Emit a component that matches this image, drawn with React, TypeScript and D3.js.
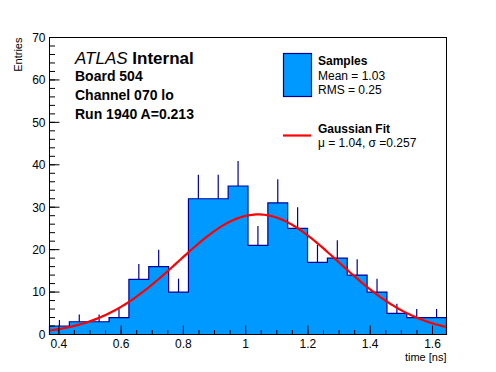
import React from "react";
import * as d3 from "d3";

// ---- data ----
const xMin = 0.37;
const xMax = 1.645;
const binCounts = [2, 3, 3, 4, 13, 16, 10, 32, 32, 35, 21, 31, 25, 17, 18, 14, 10, 5, 4, 4];
const xTickValues = [0.4, 0.6, 0.8, 1.0, 1.2, 1.4, 1.6];
const xTickLabels = ["0.4", "0.6", "0.8", "1", "1.2", "1.4", "1.6"];
const yTickValues = [0, 10, 20, 30, 40, 50, 60, 70];
const fitMean = 1.04;
const fitSigma = 0.257;
const fitConst = 28.3;
const infoLines = ["Board 504", "Channel 070 lo", "Run 1940 A=0.213"];
const legendSamples = ["Samples", "Mean = 1.03", "RMS = 0.25"];
const legendFit = ["Gaussian Fit", "\u03bc = 1.04, \u03c3 =0.257"];

const W = 496;
const H = 372;
const L = 49.5, R = 446.5, T = 37.5, B = 334.5;
const FONT = "'Liberation Sans', Arial, Helvetica, sans-serif";
const FILL = "#0099ff";
const EDGE = "#000099";

export default function App() {
  const x = d3.scaleLinear().domain([xMin, xMax]).range([L, R]);
  const y = d3.scaleLinear().domain([0, 70]).range([B, T]);
  const nb = binCounts.length;
  const bw = (xMax - xMin) / nb;
  const edges = d3.range(nb + 1).map((i) => xMin + i * bw);

  // step outline path
  let d = `M${x(edges[0])},${y(0)}`;
  binCounts.forEach((c, i) => {
    d += `L${x(edges[i])},${y(c)}L${x(edges[i + 1])},${y(c)}`;
  });
  d += `L${x(edges[nb])},${y(0)}Z`;

  const gauss = (v: number) => fitConst * Math.exp(-((v - fitMean) ** 2) / (2 * fitSigma * fitSigma));
  const curvePts = d3.range(0, 201).map((i) => {
    const v = xMin + (i / 200) * (xMax - xMin);
    return [x(v), y(gauss(v))] as [number, number];
  });
  const curve = d3.line()(curvePts) || "";

  const xMinor = d3.range(0, 30).map((i) => 0.35 + i * 0.05).filter((v) => v >= xMin && v <= xMax);
  const yMinor = d3.range(0, 36).map((i) => i * 2);

  return (
    <svg width={W} height={H} style={{ position: "absolute", left: 0, top: 0, background: "#fff" }} fontFamily={FONT}>
      <rect x={0} y={0} width={W} height={H} fill="#fff" />
      <path d={d} fill={FILL} stroke={EDGE} strokeWidth={1.2} />
      {binCounts.map((c, i) => {
        const cx = x(edges[i] + bw / 2);
        return (
          <line key={i} x1={cx} x2={cx} y1={y(c)} y2={y(c + Math.sqrt(c))} stroke={EDGE} strokeWidth={1.2} />
        );
      })}
      <defs>
        <clipPath id="frame">
          <rect x={L} y={T} width={R - L} height={B - T} />
        </clipPath>
      </defs>
      <path d={curve} fill="none" stroke="#ff0000" strokeWidth={2.2} clipPath="url(#frame)" />
      {/* frame */}
      <rect x={L} y={T} width={R - L} height={B - T} fill="none" stroke="#000" strokeWidth={1} />
      {/* x ticks */}
      {xMinor.map((v, i) => (
        <line key={"xm" + i} x1={x(v)} x2={x(v)} y1={B} y2={B - 4.5} stroke="#000" strokeWidth={1} />
      ))}
      {xTickValues.map((v, i) => (
        <g key={"xt" + i}>
          <line x1={x(v)} x2={x(v)} y1={B} y2={B - 9} stroke="#000" strokeWidth={1} />
          <text x={x(v)} y={B + 13.5} textAnchor="middle" fontSize={12}>{xTickLabels[i]}</text>
        </g>
      ))}
      {/* y ticks */}
      {yMinor.map((v, i) => (
        <line key={"ym" + i} x1={L} x2={L + 5.5} y1={y(v)} y2={y(v)} stroke="#000" strokeWidth={1} />
      ))}
      {yTickValues.map((v, i) => (
        <g key={"yt" + i}>
          <line x1={L} x2={L + 10} y1={y(v)} y2={y(v)} stroke="#000" strokeWidth={1} />
          <text x={L - 4} y={y(v) + 4.3} textAnchor="end" fontSize={12}>{String(v)}</text>
        </g>
      ))}
      <text x={R} y={360.5} textAnchor="end" fontSize={11}>time [ns]</text>
      <text transform={`translate(22,${T}) rotate(-90)`} textAnchor="end" fontSize={11}>Entries</text>
      {/* ATLAS label */}
      <text x={75} y={64} fontSize={17}>
        <tspan fontStyle="italic">ATLAS</tspan>
        <tspan fontWeight="bold"> Internal</tspan>
      </text>
      {infoLines.map((s, i) => (
        <text key={s} x={75} y={81 + i * 19} fontSize={14} fontWeight="bold">{s}</text>
      ))}
      {/* legend */}
      <rect x={283.5} y={53.5} width={28} height={43} fill={FILL} stroke={EDGE} strokeWidth={1.2} />
      <text x={318} y={65} fontSize={12} fontWeight="bold">{legendSamples[0]}</text>
      <text x={318} y={80} fontSize={12}>{legendSamples[1]}</text>
      <text x={318} y={94} fontSize={12}>{legendSamples[2]}</text>
      <line x1={283} x2={311} y1={135.5} y2={135.5} stroke="#ff0000" strokeWidth={2.2} />
      <text x={318} y={133} fontSize={12} fontWeight="bold">{legendFit[0]}</text>
      <text x={318} y={146.5} fontSize={12}>{legendFit[1]}</text>
    </svg>
  );
}
